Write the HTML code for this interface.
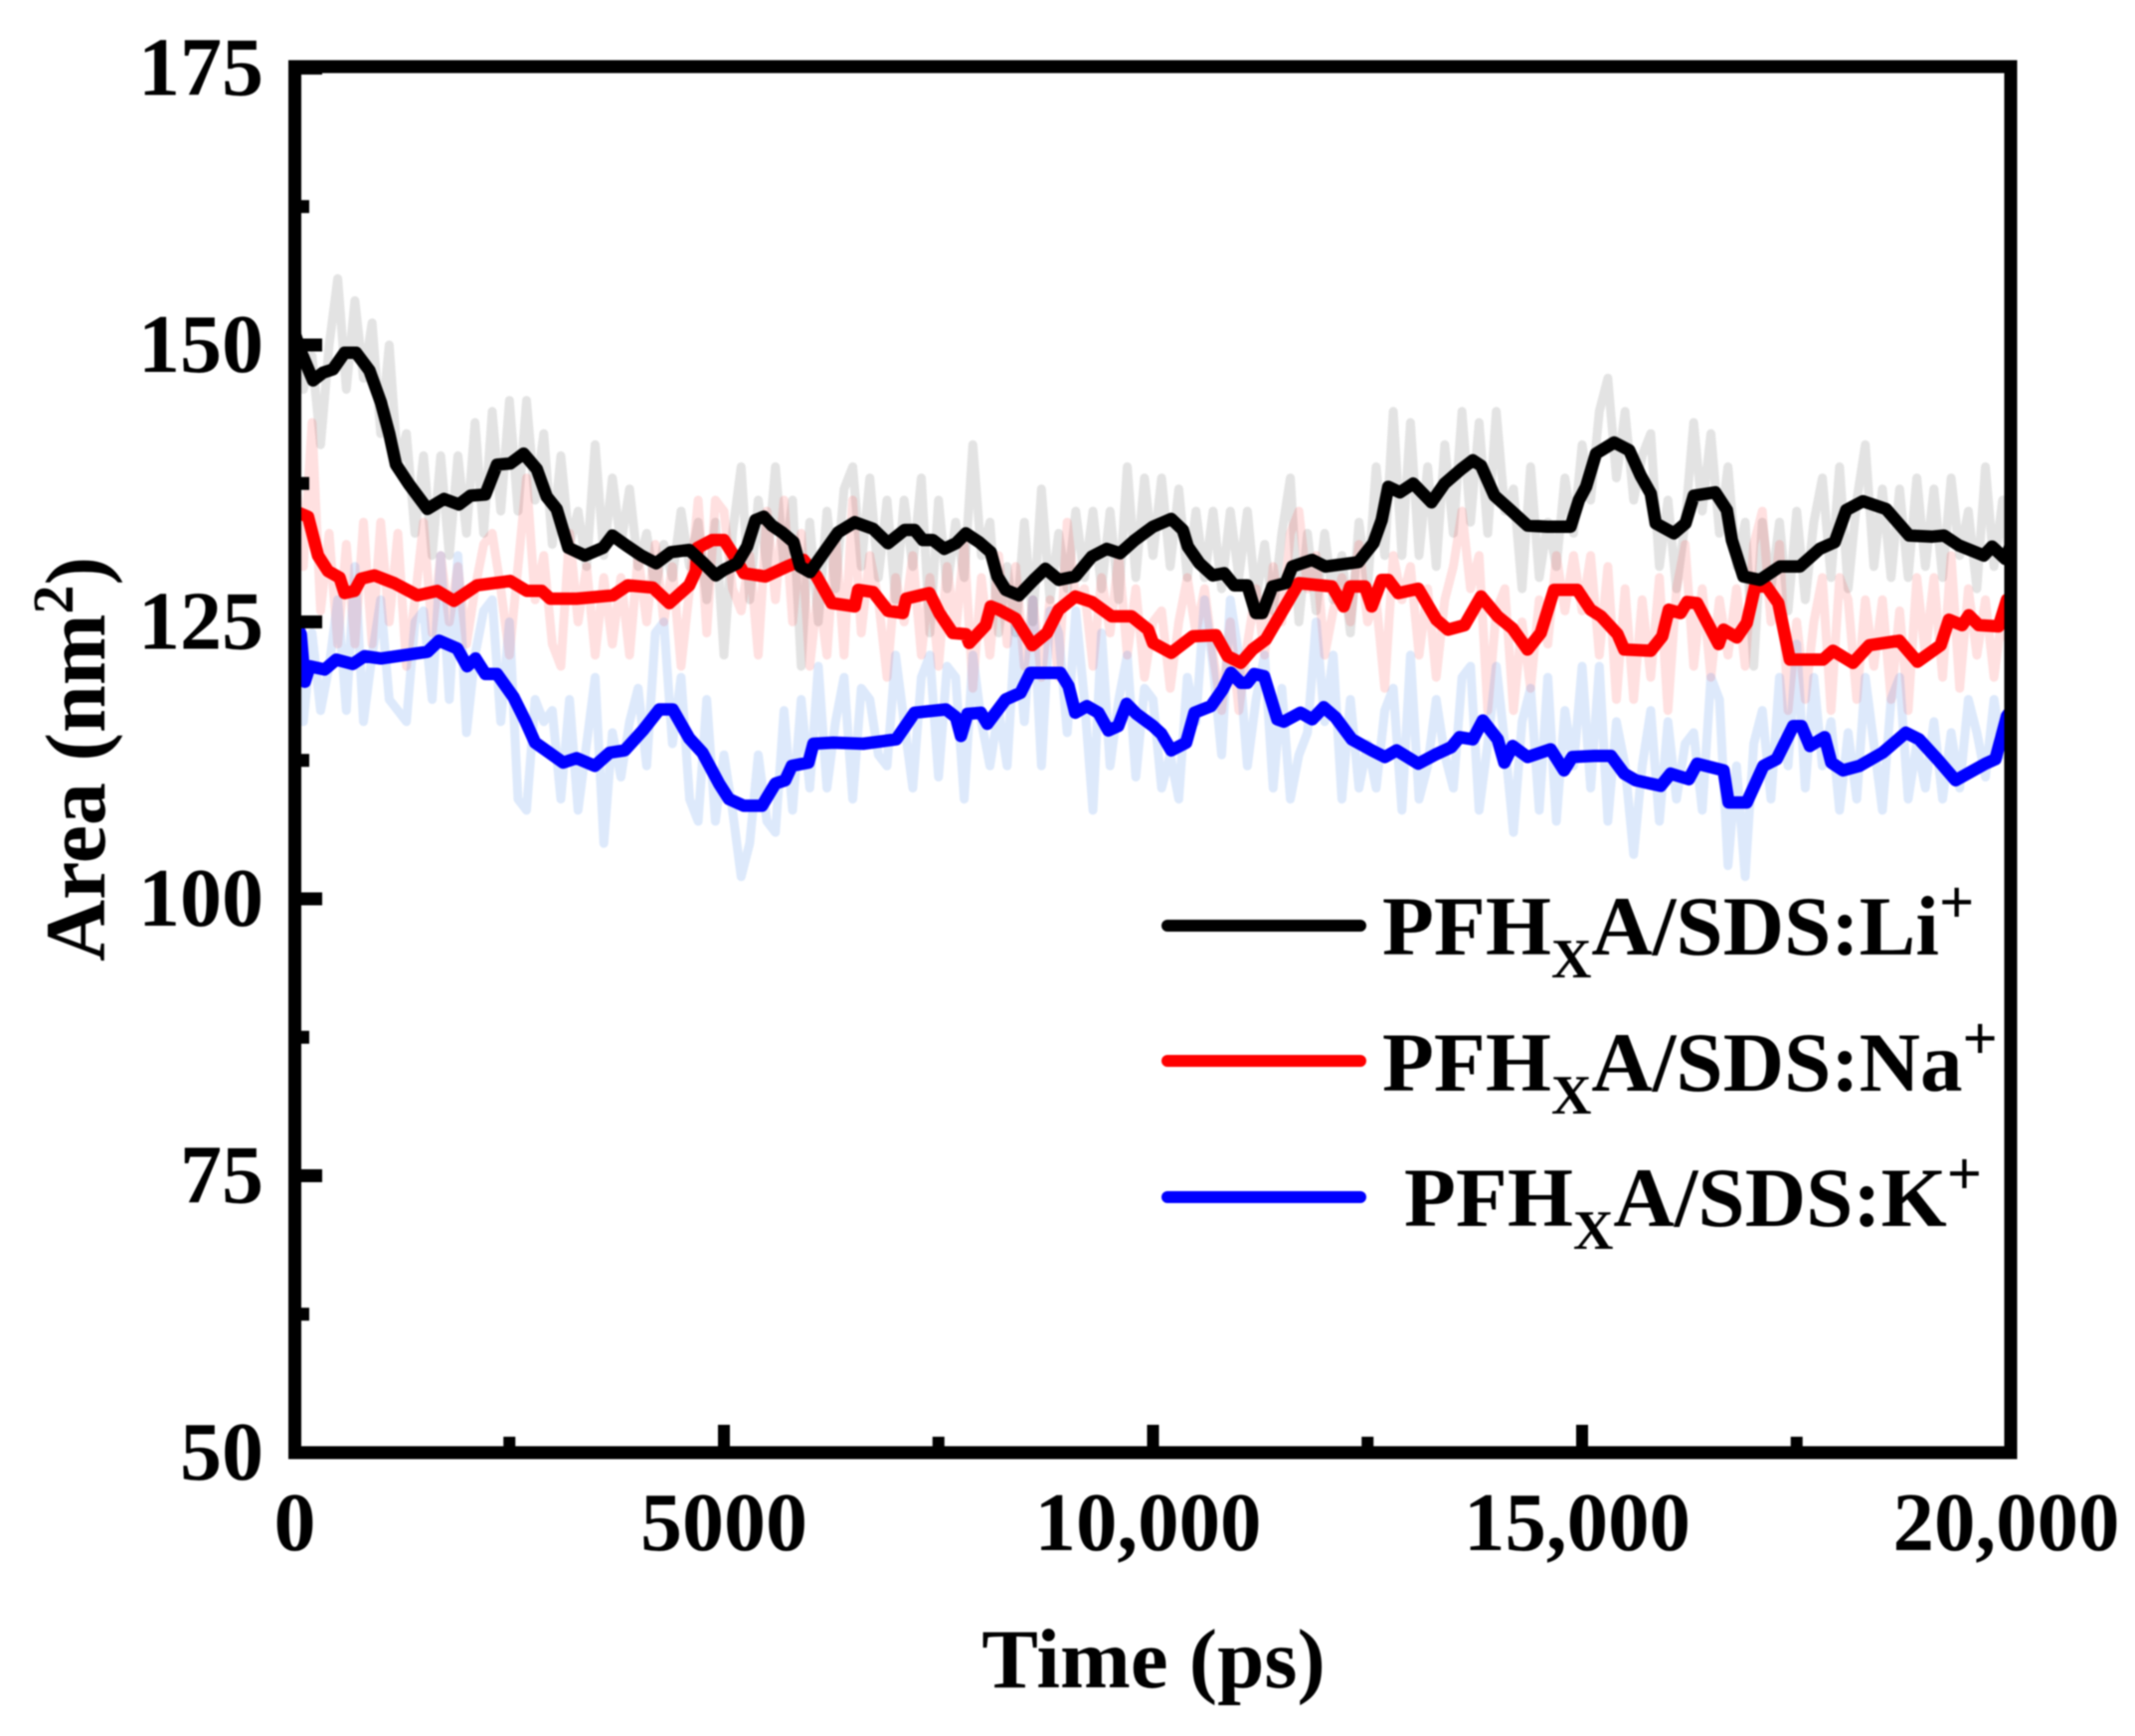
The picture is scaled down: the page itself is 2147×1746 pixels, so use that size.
<!DOCTYPE html>
<html lang="en">
<head>
<meta charset="utf-8">
<title>Area vs Time</title>
<style>
html,body{margin:0;padding:0;background:#fff;width:2147px;height:1746px;overflow:hidden}
svg{display:block;filter:blur(0.8px)}
text{font-family:"Liberation Serif",serif;font-weight:bold;fill:#000}
</style>
</head>
<body>
<svg id="chart" xmlns="http://www.w3.org/2000/svg" width="2147" height="1746" viewBox="0 0 2147 1746">
<rect x="0" y="0" width="2147" height="1746" fill="#fff"/>
<defs><clipPath id="plot-clip"><rect x="297" y="67" width="1725" height="1394"/></clipPath></defs>
<g id="raw-lines" clip-path="url(#plot-clip)"></g>
<g id="smooth-lines" clip-path="url(#plot-clip)"></g>
<g id="ticks"></g>
<rect x="296.5" y="67" width="1725.5" height="1394" fill="none" stroke="#000" stroke-width="13"/>
<g id="labels"></g>
<text x="1160" y="1697" font-size="85" text-anchor="middle">Time (ps)</text>
<text transform="translate(105,967) rotate(-90)" font-size="86">Area (nm<tspan font-size="58" dy="-32">2</tspan><tspan dy="32">)</tspan></text>
<g>
<line x1="1174" y1="931" x2="1368" y2="931" stroke="#000" stroke-width="12" stroke-linecap="round"/>
<text x="1390" y="960" font-size="85">PFH<tspan font-size="56" dy="23">X</tspan><tspan dy="-23">A/SDS:Li</tspan><tspan font-size="62" dy="-32">+</tspan></text>
<line x1="1174" y1="1067" x2="1368" y2="1067" stroke="#ff0000" stroke-width="12" stroke-linecap="round"/>
<text x="1390" y="1097" font-size="85">PFH<tspan font-size="56" dy="23">X</tspan><tspan dy="-23">A/SDS:Na</tspan><tspan font-size="62" dy="-32">+</tspan></text>
<line x1="1174" y1="1204" x2="1368" y2="1204" stroke="#0000ff" stroke-width="12" stroke-linecap="round"/>
<text x="1412" y="1233" font-size="85">PFH<tspan font-size="56" dy="23">X</tspan><tspan dy="-23">A/SDS:K</tspan><tspan font-size="62" dy="-32">+</tspan></text>
</g>
</svg>
<script>
const xTickValues = [0, 5000, 10000, 15000, 20000];
const xTickLabels = ["0", "5000", "10,000", "15,000", "20,000"];
const xMinorValues = [2500, 7500, 12500, 17500];
const yTickValues = [50, 75, 100, 125, 150, 175];
const yTickLabels = ["50", "75", "100", "125", "150", "175"];
const yMinorValues = [62.5, 87.5, 112.5, 137.5, 162.5];

const liTime = [0,77,212,328,444,579,714,869,1004,1100,1178,1332,1545,1738,1912,2047,2220,2356,2510,2665,2819,2935,3051,3186,3379,3592,3700,3862,4036,4210,4383,4596,4750,4905,5000,5154,5270,5367,5463,5560,5676,5811,5888,6004,6159,6332,6525,6738,6912,7105,7221,7317,7433,7568,7703,7819,7974,8109,8186,8283,8437,8611,8746,8901,9094,9287,9461,9615,9789,10000,10212,10348,10405,10541,10695,10830,10946,11100,11197,11274,11390,11545,11622,11854,12008,12394,12568,12665,12742,12877,13032,13244,13398,13592,13726,13823,13978,14152,14364,14596,14866,14963,15046,15162,15374,15548,15683,15799,15857,16069,16205,16301,16552,16687,16745,16880,17073,17305,17537,17769,17943,18078,18271,18541,18811,19082,19217,19391,19680,19777,19931,20000];
const liArea = [151,149.3,146.8,147.5,147.8,149.3,149.3,147.7,144.8,142,139.2,137.4,135.2,136.1,135.6,136.4,136.5,139.2,139.3,140.2,138.8,136.3,135.2,131.7,131,131.7,132.8,131.9,131,130.3,131.3,131.5,130.4,129.2,129.7,130.3,131.8,134.2,134.5,133.7,133.1,132.2,130,129.5,131.2,133.1,134,133.4,132.1,133.3,133.3,132.4,132.4,131.6,132.1,133,132.2,131.3,129.1,127.9,127.4,128.8,129.8,128.8,129.1,130.9,131.6,131.2,132.4,133.6,134.3,133.3,131.8,130.3,129.2,129.4,128.3,128.3,125.8,125.8,128.2,128.5,130,130.6,130,130.4,132.1,134.2,137.2,136.7,137.5,135.8,137.5,138.8,139.6,139.1,136.4,135.2,133.7,133.6,133.6,136,137.2,140.2,141.2,140.5,138.2,136.6,133.9,133,133.9,136.4,136.7,135.1,132.4,129.1,128.8,130,130,131.6,132.2,135.1,135.9,135.2,132.8,132.7,132.8,131.9,131,131.8,130.7,132];

const naTime = [0,154,270,386,521,579,695,772,927,1159,1429,1661,1854,2124,2510,2703,2877,2974,3283,3707,3881,4171,4364,4596,4673,4692,4866,5000,5116,5232,5483,5734,5927,6081,6255,6525,6564,6738,6912,7085,7124,7394,7510,7665,7819,7858,8051,8109,8205,8399,8592,8765,8901,9094,9287,9519,9750,9943,10000,10212,10463,10734,10869,11023,11159,11313,11699,12085,12221,12298,12471,12548,12665,12742,12858,13090,13302,13437,13630,13823,14016,14190,14364,14518,14673,14943,15098,15220,15413,15490,15799,15934,16011,16147,16224,16340,16591,16649,16803,16919,17016,17151,17286,17421,17807,17923,18155,18348,18696,18908,19178,19275,19429,19506,19622,19854,19950,20000];
const naArea = [135,134.5,131,129.6,129,127.6,127.8,128.9,129.2,128.5,127.4,127.8,126.9,128.3,128.7,127.8,127.8,127.1,127.1,127.4,128.3,128.1,126.7,128.3,129.6,131.7,132.4,132.4,131,129.4,129.1,130,130.6,129.1,126.7,126.4,127.9,127.7,126,125.8,127.1,127.6,125.8,124,123.9,123.1,124.7,126.4,126.1,125.3,122.9,124,126.1,127.3,126.8,125.5,125.5,124.3,123.1,122.2,123.7,123.8,121.9,121.3,122.5,123.4,128.5,128.2,126.4,128.2,128.2,126.4,128.8,128.8,127.6,128,125.2,124.3,124.7,127.3,125.5,124.4,122.5,124,127.9,127.9,126.1,125.5,123.9,122.5,122.4,123.7,126.1,125.8,126.8,126.7,123,124.3,123.6,124.9,128.2,128.2,126.7,121.6,121.6,122.4,121.3,122.9,123.3,121.4,122.9,125.2,124.7,125.6,124.7,124.6,127,127];

const kTime = [0,70,116,174,348,483,676,811,1004,1545,1680,1892,2008,2105,2220,2356,2549,2684,2800,3128,3283,3495,3669,3843,4055,4248,4403,4596,4750,4943,5059,5232,5444,5599,5714,5792,5985,6043,6274,6622,7008,7221,7587,7703,7761,7838,7993,8070,8283,8457,8572,8920,9016,9094,9229,9364,9480,9595,9692,9808,10000,10097,10212,10386,10483,10676,10811,10908,11023,11100,11178,11294,11448,11525,11718,11854,11989,12124,12317,12549,12703,12838,13090,13283,13476,13572,13726,13843,14016,14094,14190,14364,14634,14789,14885,15142,15336,15490,15625,15915,16031,16243,16340,16649,16707,16919,17112,17266,17460,17556,17653,17826,17904,18039,18232,18502,18773,18927,19140,19352,19700,19816,19950,20000];
const kArea = [125,123.9,119.6,121,120.7,121.6,121.2,121.9,121.7,122.3,123.3,122.6,121,121.7,120.3,120.3,118.2,116.1,114.1,112.3,112.7,112,113.2,113.4,115.2,117.1,117.1,114.5,113.2,110.4,109,108.4,108.4,110.4,110.7,112,112.3,114,114.1,114,114.4,116.8,117.1,116.4,114.7,116.7,116.8,115.8,118,118.6,120.4,120.4,119.2,116.8,117.4,116.8,115.2,115.6,117.6,116.7,115.6,114.9,113.4,114.1,116.8,117.4,118.9,120.4,119.5,119.5,120.3,120.1,116.2,116,116.8,116.2,117.3,116.4,114.4,113.4,112.8,113.4,112.2,113,113.7,114.6,114.4,116.1,114.4,112.3,113.8,112.8,113.5,111.6,112.8,112.9,112.9,111.3,110.7,110.2,111.3,110.8,112.2,111.6,108.7,108.7,112,112.6,115.6,115.6,113.8,114.6,112.3,111.6,112,113.2,115,114.4,112.6,110.7,112.2,112.6,116.5,117];

const rawStepPs = 100;
const liRaw = [153,146,149,141,150,156,146,154,147,152,142,150,139,142,133,140,131,140,131,140,133,143,133,144,135,145,135,145,136,142,132,140,132,135,130,141,131,138,132,137,130,133,128,132,129,135,130,134,127,134,122,133,139,127,136,130,139,130,136,121,134,125,135,128,137,139,130,138,129,136,127,136,130,138,124,136,128,134,129,141,131,134,124,130,124,134,125,137,127,133,128,135,129,135,128,135,127,139,129,138,131,138,130,137,129,135,129,135,128,135,129,135,127,132,126,133,138,125,133,126,133,127,131,124,134,128,139,131,144,131,143,131,139,130,141,133,144,134,143,133,144,135,137,128,139,129,134,130,138,133,141,136,144,147,138,144,136,140,142,130,136,128,134,143,135,142,133,139,130,134,121,134,128,134,126,135,127,134,138,129,139,128,136,141,130,137,129,137,129,138,130,137,129,138,131,135,128,139,130,136,129];
const naRaw = [139,130,143,126,133,123,132,123,134,123,134,125,133,121,127,134,124,131,125,130,123,128,132,133,128,122,130,138,127,131,123,121,133,125,130,122,129,123,129,122,131,125,132,125,130,121,128,136,124,136,135,128,126,131,122,135,127,136,125,133,121,128,122,133,122,136,124,131,127,120,129,125,131,122,129,121,130,124,132,119,129,122,131,123,130,121,127,120,127,120,134,127,128,121,129,124,131,122,128,120,125,126,119,125,129,124,128,122,117,125,117,123,128,122,130,125,133,135,128,131,122,126,129,125,132,125,127,119,131,127,130,122,128,120,127,130,135,128,131,117,126,128,117,125,119,127,123,131,126,131,126,131,122,130,118,128,118,127,120,129,117,128,132,121,128,120,127,122,128,121,132,135,125,132,117,125,118,125,129,117,129,127,118,127,121,127,118,126,117,129,122,129,120,131,119,128,122,127,120,126,122];
const kRaw = [127,116,124,117,121,127,117,130,116,122,127,118,117,116,125,126,118,131,118,131,115,122,126,127,116,125,109,108,118,116,117,109,118,108,114,120,105,115,111,116,119,112,124,125,114,120,109,107,118,107,113,108,102,105,113,107,106,117,108,118,110,121,110,116,120,109,119,118,113,112,122,116,110,120,122,111,121,120,109,122,116,112,117,112,125,116,127,112,126,124,115,126,118,108,124,112,118,122,111,119,118,110,113,109,120,116,127,121,113,127,122,112,118,122,110,119,109,113,115,125,116,122,109,118,110,114,110,117,119,108,122,109,112,118,113,110,120,121,108,114,121,114,106,116,119,108,120,107,117,112,121,110,121,107,116,112,104,112,117,107,116,109,114,115,108,120,118,103,112,102,114,117,109,120,112,123,110,120,112,116,108,115,109,120,114,108,118,120,109,114,110,116,109,115,110,118,115,111,118,113,116];

const NS = "http://www.w3.org/2000/svg";
function xScale(t){ return 296.5 + t * 0.0863; }
function yScale(v){ return 1461 - (v - 50) * 11.14; }
function pointsFrom(times, values){
  return values.map(function(v, i){ return xScale(times[i]).toFixed(1) + "," + yScale(v).toFixed(1); }).join(" ");
}
function rawPoints(values){
  return values.map(function(v, i){ return xScale(i * rawStepPs).toFixed(1) + "," + yScale(v).toFixed(1); }).join(" ");
}
function makeLine(parent, points, color, width, opacity){
  const el = document.createElementNS(NS, "polyline");
  el.setAttribute("points", points);
  el.setAttribute("fill", "none");
  el.setAttribute("stroke", color);
  el.setAttribute("stroke-width", width);
  el.setAttribute("stroke-opacity", opacity);
  el.setAttribute("stroke-linejoin", "round");
  parent.appendChild(el);
  return el;
}
function makeTick(parent, x1, y1, x2, y2, w){
  const el = document.createElementNS(NS, "line");
  el.setAttribute("x1", x1);
  el.setAttribute("y1", y1);
  el.setAttribute("x2", x2);
  el.setAttribute("y2", y2);
  el.setAttribute("stroke", "#000");
  el.setAttribute("stroke-width", w);
  parent.appendChild(el);
  return el;
}
function makeLabel(parent, x, y, anchor, str){
  const el = document.createElementNS(NS, "text");
  el.setAttribute("x", x);
  el.setAttribute("y", y);
  el.setAttribute("font-size", "84");
  el.setAttribute("text-anchor", anchor);
  el.textContent = str;
  parent.appendChild(el);
  return el;
}

const rawGroup = document.getElementById("raw-lines");
const smoothGroup = document.getElementById("smooth-lines");
const tickGroup = document.getElementById("ticks");
const labelGroup = document.getElementById("labels");

const rawLi = makeLine(rawGroup, rawPoints(liRaw), "#000000", 9, 0.11);


const rawNa = makeLine(rawGroup, rawPoints(naRaw), "#ff0000", 9, 0.12);


const rawK = makeLine(rawGroup, rawPoints(kRaw), "#1166e0", 9, 0.14);



const smoothK = makeLine(smoothGroup, pointsFrom(kTime, kArea), "#0000ff", 12.5, 1);


const smoothNa = makeLine(smoothGroup, pointsFrom(naTime, naArea), "#ff0000", 12.5, 1);


const smoothLi = makeLine(smoothGroup, pointsFrom(liTime, liArea), "#000000", 12.5, 1);



xTickValues.forEach(function(t, i){
  const tick = makeTick(tickGroup, xScale(t), 1461, xScale(t), 1433, 12);
  
  
  const cx = i >= 2 ? xScale(t) - 5 : xScale(t);
  const label = makeLabel(labelGroup, cx, 1559, "middle", xTickLabels[i]);
  if (i >= 2) { label.setAttribute("textLength", "228"); label.setAttribute("lengthAdjust", "spacingAndGlyphs"); }
  
  
});
xMinorValues.forEach(function(t){
  const tick = makeTick(tickGroup, xScale(t), 1461, xScale(t), 1445, 12);
  
  
});
yTickValues.forEach(function(v, i){
  const tick = makeTick(tickGroup, 296.5, yScale(v), 324, yScale(v), 13);
  
  
  const label = makeLabel(labelGroup, 265, yScale(v) + 27, "end", yTickLabels[i]);
  
  
});
yMinorValues.forEach(function(v){
  const tick = makeTick(tickGroup, 296.5, yScale(v), 311, yScale(v), 13);
  
  
});
</script>
</body>
</html>
